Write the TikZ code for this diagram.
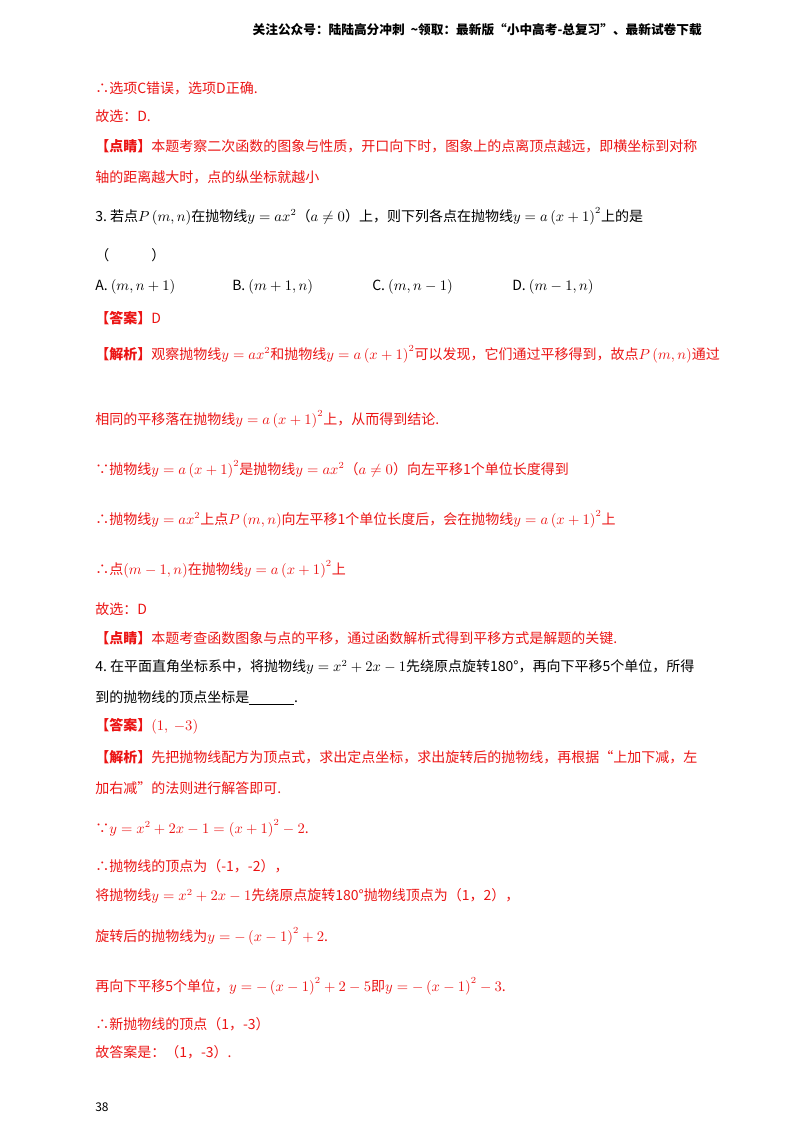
\documentclass[tikz,border=0pt]{standalone}
\usepackage{fontspec}
\setmainfont{Noto Sans CJK SC}
\definecolor{rd}{RGB}{235,20,20}
\begin{document}
\begin{tikzpicture}[x=0.75pt,y=-0.75pt,
  ln/.style={anchor=west,inner sep=0pt,font=\fontsize{10.5}{12}\selectfont},
  r/.style={ln,text=rd},k/.style={ln,text=black}]
\useasboundingbox (0,0) rectangle (800,1132);
\node[k,anchor=east,font=\fontsize{9.5}{11}\selectfont\bfseries] (hd) at (702,30) {关注公众号：陆陆高分冲刺\ \ \textasciitilde 领取：最新版“小中高考-总复习”、最新试卷下载};
\node[r] (l1) at (95,88) {∴选项C错误，选项D正确.};
\node[r] (l2) at (95,116) {故选：D.};
\node[r] (l3) at (95,146) {\textbf{【点睛】}本题考察二次函数的图象与性质，开口向下时，图象上的点离顶点越远，即横坐标到对称};
\node[r] (l4) at (95,177) {轴的距离越大时，点的纵坐标就越小};
\node[k] (q3) at (95,216) {3.\ 若点$P\left(m,n\right)$在抛物线$y=ax^2$（$a\neq0$）上，则下列各点在抛物线$y=a\left(x+1\right)^2$上的是};
\node[k] (q3b) at (95,255) {（\qquad\quad ）};
\node[k] (oa) at (95,287) {A.\ $\left(m,n+1\right)$};
\node[k] (ob) at (232,287) {B.\ $\left(m+1,n\right)$};
\node[k] (oc) at (372,287) {C.\ $\left(m,n-1\right)$};
\node[k] (od) at (512,287) {D.\ $\left(m-1,n\right)$};
\node[r] (a3) at (95,318) {\textbf{【答案】}D};
\node[r] (j1) at (95,354) {\textbf{【解析】}观察抛物线$y=ax^2$和抛物线$y=a\left(x+1\right)^2$可以发现，它们通过平移得到，故点$P\left(m,n\right)$通过};
\node[r] (j2) at (95,419) {相同的平移落在抛物线$y=a\left(x+1\right)^2$上，从而得到结论.};
\node[r] (j3) at (95,469) {∵抛物线$y=a\left(x+1\right)^2$是抛物线$y=ax^2$（$a\neq0$）向左平移1个单位长度得到};
\node[r] (j4) at (95,519) {∴抛物线$y=ax^2$上点$P\left(m,n\right)$向左平移1个单位长度后，会在抛物线$y=a\left(x+1\right)^2$上};
\node[r] (j5) at (95,569) {∴点$\left(m-1,n\right)$在抛物线$y=a\left(x+1\right)^2$上};
\node[r] (j6) at (95,609) {故选：D};
\node[r] (j7) at (95,638) {\textbf{【点睛】}本题考查函数图象与点的平移，通过函数解析式得到平移方式是解题的关键.};
\node[k] (q4) at (95,667) {4.\ 在平面直角坐标系中，将抛物线$y=x^2+2x-1$先绕原点旋转180°，再向下平移5个单位，所得};
\node[k] (q4b) at (95,698) {到的抛物线的顶点坐标是\underline{\hspace{3.2em}}.};
\node[r] (a4) at (95,726) {\textbf{【答案】}$\left(1,\ -3\right)$};
\node[r] (k1) at (95,757) {\textbf{【解析】}先把抛物线配方为顶点式，求出定点坐标，求出旋转后的抛物线，再根据“上加下减，左};
\node[r] (k2) at (95,788) {加右减”的法则进行解答即可.};
\node[r] (k3) at (95,828) {∵$y=x^2+2x-1=\left(x+1\right)^2-2$.};
\node[r] (k4) at (95,866) {∴抛物线的顶点为（-1，-2），};
\node[r] (k5) at (95,896) {将抛物线$y=x^2+2x-1$先绕原点旋转180°抛物线顶点为（1，2），};
\node[r] (k6) at (95,936) {旋转后的抛物线为$y=-\left(x-1\right)^2+2$.};
\node[r] (k7) at (95,986) {再向下平移5个单位，$y=-\left(x-1\right)^2+2-5$即$y=-\left(x-1\right)^2-3$.};
\node[r] (k8) at (95,1024) {∴新抛物线的顶点（1，-3）};
\node[r] (k9) at (95,1052) {故答案是：（1，-3）.};
\node[k,font=\fontsize{9}{10}\selectfont] (pg) at (95,1107) {38};
\end{tikzpicture}
\end{document}
